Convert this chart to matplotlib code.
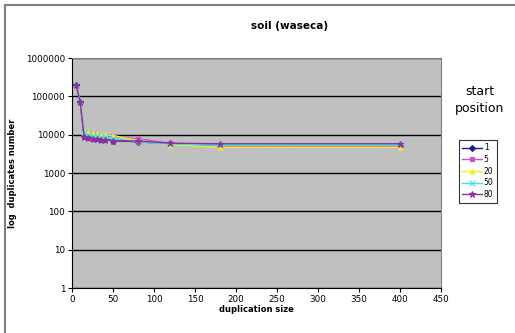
import matplotlib
matplotlib.use("Agg")
import matplotlib.pyplot as plt
from matplotlib.lines import Line2D

sizes = [5, 10, 15, 20, 25, 30, 35, 40, 50, 80, 120, 180, 400]
s1 = [200000, 70000, 9000, 8500, 8200, 8000, 7800, 7600, 7000, 6500, 5800, 5200, 5000]
s5 = [200000, 70000, 12000, 11000, 10500, 10000, 9500, 9200, 9000, 7800, 6000, 5000, 5000]
s20 = [200000, 70000, 12500, 11500, 11000, 10500, 10000, 9800, 9500, 7000, 5500, 4700, 4700]
s50 = [200000, 70000, 11000, 10000, 9500, 9000, 8800, 8500, 8000, 6500, 5700, 5300, 5300]
s80 = [200000, 70000, 8500, 8000, 7800, 7500, 7300, 7200, 7000, 6800, 6000, 5800, 5800]
labels = ["1", "5", "20", "50", "80"]

series = [s1, s5, s20, s50, s80]
colors = ["#1a1a8c", "#d050c8", "#f0f020", "#40e0f0", "#9030a0"]
markers = ["D", "s", "^", "x", "*"]
msizes = [3, 3.5, 3.5, 4, 5]

fig = plt.figure(figsize=(5.15, 3.33), dpi=100)
bx, by = 5/515, 1 - 5/333
fig.add_artist(Line2D([bx, bx], [0, by], transform=fig.transFigure, color="#808080", linewidth=1.5))
fig.add_artist(Line2D([bx, 1], [by, by], transform=fig.transFigure, color="#808080", linewidth=1.5))
ax = fig.add_axes([72/515, 1 - 288/333, (441 - 72)/515, (288 - 58)/333])
ax.set_facecolor("#c0c0c0")
for y, c, m, ms, lab in zip(series, colors, markers, msizes, labels):
    ax.plot(sizes, y, color=c, marker=m, markersize=ms, linewidth=1, label=lab,
            markeredgewidth=0.8)
ax.set_yscale("log")
ax.set_ylim(1, 1000000)
ax.set_xlim(0, 450)
ax.set_xticks(range(0, 451, 50))
ax.set_yticks([1, 10, 100, 1000, 10000, 100000, 1000000])
ax.set_yticklabels(["1", "10", "100", "1000", "10000", "100000", "1000000"])
ax.minorticks_off()
ax.yaxis.grid(True, color="black", linewidth=1)
ax.set_axisbelow(True)
for sp in ["top", "right"]:
    ax.spines[sp].set_color("#808080")
ax.spines["left"].set_color("black")
ax.spines["bottom"].set_color("black")
ax.tick_params(labelsize=6.3, length=3, width=0.8, pad=2)
ax.set_xlabel("duplication size", fontsize=6, fontweight="bold", labelpad=1)
ax.set_ylabel("log  duplicates number", fontsize=6, fontweight="bold", labelpad=6)
fig.text(290/515, 1 - 26/333, "soil (waseca)", fontsize=7.5, fontweight="bold",
         ha="center", va="center")
fig.text(480/515, 1 - 100/333, "start\nposition", fontsize=9, ha="center", va="center",
         linespacing=1.4)
leg = ax.legend(loc="upper left", bbox_to_anchor=(459/515, 1 - 140/333),
                bbox_transform=fig.transFigure, fontsize=5.5, frameon=True,
                fancybox=False, edgecolor="black", handlelength=2.6, borderpad=0.45,
                labelspacing=0.35, handletextpad=0.2, borderaxespad=0)
leg.get_frame().set_linewidth(0.8)
fig.savefig("out.png", dpi=100)
